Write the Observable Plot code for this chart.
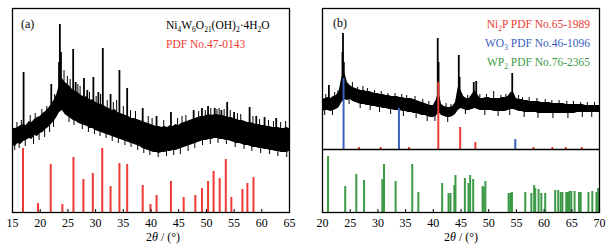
<!DOCTYPE html>
<html><head><meta charset="utf-8">
<script src="https://cdn.jsdelivr.net/npm/d3@7"></script>
<script src="https://cdn.jsdelivr.net/npm/@observablehq/plot@0.6"></script>
<style>
body{margin:0;background:#fff;}
#wrap{position:relative;width:611px;height:249px;font-family:'Liberation Serif',serif;color:#000;}
#wrap svg{position:absolute;top:0;}
#wrap svg text{font-family:'Liberation Serif',serif;}
.t{position:absolute;white-space:nowrap;line-height:1;}
.t sub{font-size:0.65em;vertical-align:-0.35em;line-height:0;}
</style></head><body><div id="wrap"></div>
<script>
// ---------- Panel (a) data ----------
const xTicksA = [15,20,25,30,35,40,45,50,55,60,65];
// sample pattern envelope: [2theta, lower, upper] (a.u.)
const patternA = [
[15,67,84],[15.5,66,84],[16,69,85],[16.5,68,87],[17,71,88],[17.5,72,87],[18,74,91],[18.5,73,90],
[19,77,93],[19.5,76,95],[20,79,96],[20.5,80,99],[21,83,101],[21.5,85,104],[22,88,108],[22.5,91,112],
[23,95,118],[23.5,100,128],[24,102,134],[24.5,98,130],[25,96,128],[25.5,94,125],[26,92,122],[26.5,91,121],
[27,89,119],[27.5,88,117],[28,87,115],[28.5,86,116],[29,84,112],[29.5,84,113],[30,82,110],[30.5,81,109],
[31,80,108],[31.5,79,107],[32,78,105],[32.5,77,104],[33,76,102],[33.5,75,103],[34,74,100],[34.5,73,99],
[35,72,98],[35.5,71,97],[36,70,96],[36.5,69,94],[37,68,94],[37.5,67,93],[38,66,92],[38.5,64,91],
[39,63,90],[39.5,62,89],[40,61,88],[40.5,60,87],[41,60,86],[41.5,59,86],[42,60,85],[42.5,60,86],
[43,61,85],[43.5,61,87],[44,62,86],[44.5,62,88],[45,63,87],[45.5,64,89],[46,65,90],[46.5,66,91],
[47,67,92],[47.5,68,93],[48,69,94],[48.5,70,95],[49,71,96],[49.5,72,96],[50,72,97],[50.5,73,98],
[51,73,97],[51.5,74,98],[52,74,98],[52.5,73,97],[53,73,97],[53.5,72,96],[54,72,95],[54.5,71,95],
[55,70,94],[55.5,69,93],[56,69,92],[56.5,68,92],[57,67,91],[57.5,67,90],[58,66,90],[58.5,65,89],
[59,65,88],[59.5,64,88],[60,64,87],[60.5,63,87],[61,63,86],[61.5,62,86],[62,62,85],[62.5,61,85],
[63,61,85],[63.5,60,84],[64,60,84],[64.5,60,85],[65,61,84]];
// sharp reflections of the sample: [2theta, top]
const peaksA = [
[17.0,140],[22.0,128],[23.4,150],[23.55,188],[23.75,160],[25.95,163],[26.4,130],[27.9,134],[28.5,122],
[29.6,135],[30.5,120],[31.3,164],[32.7,118],[34.3,142],[35.7,124],[38.5,104],[41.0,96],[43.6,100],
[47.7,102],[49.2,104],[50.3,106],[51.5,104],[52.7,102],[53.75,110],[55.0,100],[57.8,105],[59.0,96],
[60.5,95],[62.6,94]];
// noise spikes above and dips below the band: [2theta, extreme]
const noiseA = [
[15.8,90],[16.6,92],[18.2,97],[19.1,99],[20.3,103],[21.2,106],[22.6,118],[24.3,142],[24.9,136],[25.4,133],
[26.8,128],[27.2,126],[28.9,120],[30.1,116],[30.9,118],[32.1,112],[33.2,110],[33.8,112],[35.0,106],
[36.3,102],[37.2,101],[39.5,96],[40.2,94],[42.3,92],[44.8,94],[45.6,96],[46.3,97],[48.6,101],[49.8,102],
[50.8,104],[51.9,103],[52.3,104],[53.2,103],[54.3,102],[55.6,99],[56.2,98],[58.4,96],[59.6,93],
[61.2,92],[62.1,91],[63.4,90],[64.3,91]];
const dipsA = [
[15.4,62],[16.2,64],[17.3,66],[18.8,68],[19.8,72],[20.8,75],[21.7,80],[22.4,85],[25.2,90],[26.1,87],
[27.6,83],[28.7,80],[29.8,78],[30.8,76],[31.9,74],[33.0,71],[34.1,69],[35.3,67],[36.4,65],[37.6,62],
[38.7,59],[39.8,57],[41.3,55],[42.8,56],[44.1,57],[45.3,58],[46.7,61],[47.9,64],[49.3,67],[50.7,68],
[52.1,69],[53.6,68],[55.2,65],[56.8,63],[58.2,61],[59.8,59],[61.4,58],[62.9,56],[64.5,55]];
// PDF No.47-0143 reference lines: [2theta, intensity]
const pdfA = [
[16.9,64],[19.6,9],[21.9,48],[24.0,8],[26.0,55],[27.8,33],[29.5,39],[31.2,64],[32.7,26],[34.3,49],
[35.7,48],[38.5,27],[39.9,8],[41.0,17],[43.6,31],[45.9,15],[48.0,17],[49.2,24],[50.3,31],[51.3,41],
[52.4,34],[53.5,53],[54.5,15],[56.5,23],[57.4,29],[58.5,35]];

// ---------- Panel (b) data ----------
const xTicksB = [20,25,30,35,40,45,50,55,60,65,70];
const patternB = [
[20,101,113],[20.5,102,114],[21,102,115],[21.5,101,114],[22,102,116],[22.5,103,117],[23,105,121],
[23.5,110,135],[24,113,140],[24.5,112,130],[25,113,127],[25.5,111,125],[26,110,124],[26.5,109,123],
[27,108,122],[27.5,108,122],[28,107,121],[28.5,107,121],[29,106,120],[29.5,106,119],[30,105,119],
[30.5,105,118],[31,104,118],[31.5,104,117],[32,103,117],[32.5,103,116],[33,102,116],[33.5,102,116],
[34,102,115],[34.5,101,115],[35,101,114],[35.5,100,114],[36,100,114],[36.5,99,113],[37,99,112],
[37.5,98,111],[38,97,110],[38.5,97,109],[39,96,108],[39.5,95,107],[40,95,107],[40.5,96,112],
[41,100,120],[41.5,97,108],[42,96,106],[42.5,95,105],[43,95,105],[43.5,96,106],[44,98,110],
[44.5,102,125],[45,104,122],[45.5,103,116],[46,102,114],[46.5,102,114],[47,103,118],[47.5,104,122],
[48,103,118],[48.5,102,114],[49,102,114],[49.5,102,115],[50,102,115],[50.5,102,114],[51,101,114],
[51.5,101,114],[52,101,114],[52.5,101,115],[53,101,115],[53.5,102,116],[54,103,120],[54.5,103,120],
[55,102,114],[55.5,101,113],[56,101,113],[56.5,100,112],[57,100,112],[57.5,100,111],[58,100,111],
[58.5,100,111],[59,99,111],[59.5,99,110],[60,99,110],[60.5,99,110],[61,99,110],[61.5,99,109],
[62,99,109],[62.5,99,109],[63,99,109],[63.5,99,109],[64,99,108],[64.5,99,108],[65,99,108],
[65.5,99,108],[66,100,108],[66.5,100,108],[67,100,108],[67.5,100,107],[68,100,107],[68.5,100,107],
[69,100,107],[69.5,100,107],[70,100,107]];
const peaksB = [
[21.15,127],[23.6,160],[23.7,179],[23.85,150],[40.8,174],[40.95,150],[44.6,157],[44.75,135],
[47.3,130],[47.75,131],[54.25,139]];
const noiseB = [
[20.6,118],[22.2,120],[22.8,122],[25.4,130],[26.3,125],[27.3,126],[28.1,124],[29.4,122],[30.6,121],
[31.8,119],[33.1,119],[34.3,118],[35.2,117],[36.7,116],[38.1,113],[39.2,111],[42.3,109],[43.2,108],
[46.2,117],[48.4,118],[49.6,118],[50.9,121],[52.2,117],[53.1,118],[55.4,117],[56.1,115],[57.3,115],
[58.7,114],[60.2,113],[61.4,112],[62.7,112],[64.1,111],[65.3,111],[66.6,110],[67.8,110],[69.1,110]];
const dipsB = [
[20.4,97],[21.8,97],[24.8,108],[26.8,104],[28.6,102],[30.3,100],[32.3,98],[34.6,96],[36.9,94],[38.9,91],
[40.3,91],[42.6,90],[45.8,98],[49.3,97],[51.7,96],[53.8,97],[56.4,95],[58.9,94],[61.6,94],[64.3,94],
[66.9,95],[68.6,95]];
// reference lines, intensities above the divider
const pdfNi2P = [[40.9,67],[44.85,22],[47.6,7],[26.6,2],[30.5,2],[35.6,2],[58.1,2],[61.5,2],[63.9,2],[66.8,2]];
const pdfWO3 = [[23.8,71],[33.8,41],[54.8,10]];
const pdfWP2 = [
[21.0,56],[24.1,26],[26.1,38],[27.5,32],[30.8,33],[31.1,48],[33.2,31],[36.2,48],[37.3,20],[41.6,29],
[42.75,19],[43.1,19],[43.8,27],[44.0,37],[45.7,34],[46.35,29],[46.65,37],[47.2,33],[48.9,26],[49.1,25],
[49.4,31],[53.6,19],[53.9,19],[54.2,20],[56.6,20],[57.7,19],[58.2,27],[58.4,24],[59.0,23],[59.5,19],
[60.2,19],[62.0,22],[62.55,22],[63.0,20],[63.3,20],[64.0,20],[64.2,20],[64.4,20],[64.6,21],[64.9,21],
[65.5,21],[66.3,20],[66.6,20],[68.0,20],[68.7,21],[69.45,20],[69.75,24]];

// ---------- drawing ----------
const RED = "#ee3b33", BLUE = "#3a62bd", GREEN = "#3c9a47";
const DIVIDER = 63; // height of (b) divider on the y scale
const H = 249;
const mid = r => (r[1] + r[2]) / 2;
function baseAt(env, x) { // nearest envelope sample, for spike bases
  let best = env[0];
  for (const r of env) if (Math.abs(r[0] - x) < Math.abs(best[0] - x)) best = r;
  return mid(best);
}
const style = {fontFamily: "'Liberation Serif', serif", fontSize: "12px", color: "black", background: "white", overflow: "visible"};

function pattern(env, peaks, noise, dips) {
  return [
    Plot.areaY(env, {x: d => d[0], y1: d => d[1], y2: d => d[2], fill: "black"}),
    Plot.ruleX(noise, {x: d => d[0], y1: d => baseAt(env, d[0]), y2: d => d[1], stroke: "black", strokeWidth: 1}),
    Plot.ruleX(dips, {x: d => d[0], y1: d => baseAt(env, d[0]), y2: d => d[1], stroke: "black", strokeWidth: 1}),
    Plot.ruleX(peaks, {x: d => d[0], y1: d => baseAt(env, d[0]), y2: d => d[1], stroke: "black", strokeWidth: 1.8})
  ];
}

const plotA = Plot.plot({
  width: 305, height: H, marginLeft: 12, marginRight: 16, marginTop: 8, marginBottom: 37,
  style,
  x: {domain: [15, 65]}, y: {domain: [0, 204], axis: null},
  marks: [
    Plot.ruleX(pdfA, {x: d => d[0], y1: 0, y2: d => d[1], stroke: RED, strokeWidth: 2}),
    ...pattern(patternA, peaksA, noiseA, dipsA),
    Plot.ruleX(xTicksA.slice(1, -1), {y1: 0, y2: 3, stroke: "black", strokeWidth: 1}),
    Plot.axisX({ticks: xTicksA, tickSize: 0, tickPadding: 6, label: null, fontSize: 12}),
    Plot.frame({stroke: "black", strokeWidth: 1.3})
  ]
});

const plotB = Plot.plot({
  width: 306, height: H, marginLeft: 17, marginRight: 12, marginTop: 8, marginBottom: 37,
  style,
  x: {domain: [20, 70]}, y: {domain: [0, 204], axis: null},
  marks: [
    ...pattern(patternB, peaksB, noiseB, dipsB),
    Plot.ruleX(pdfNi2P, {x: d => d[0], y1: DIVIDER, y2: d => DIVIDER + d[1], stroke: RED, strokeWidth: 2}),
    Plot.ruleX(pdfWO3, {x: d => d[0], y1: DIVIDER, y2: d => DIVIDER + d[1], stroke: BLUE, strokeWidth: 2}),
    Plot.ruleY([DIVIDER], {stroke: "black", strokeWidth: 1.3}),
    Plot.ruleX(pdfWP2, {x: d => d[0], y1: 0, y2: d => d[1], stroke: GREEN, strokeWidth: 2}),
    Plot.ruleX(xTicksB.slice(1, -1), {y1: 0, y2: 3, stroke: "black", strokeWidth: 1}),
    Plot.axisX({ticks: xTicksB, tickSize: 0, tickPadding: 6, label: null, fontSize: 12}),
    Plot.frame({stroke: "black", strokeWidth: 1.3})
  ]
});

const wrap = document.getElementById("wrap");
plotA.style.left = "0px";
plotB.style.left = "305px";
wrap.appendChild(plotA);
wrap.appendChild(plotB);

function label(html, css) {
  const d = document.createElement("div");
  d.className = "t";
  d.innerHTML = html;
  Object.assign(d.style, css);
  wrap.appendChild(d);
  return d;
}
label("(a)", {left: "21px", top: "18px", fontSize: "12px"});
label("Ni<sub>4</sub>W<sub>6</sub>O<sub>21</sub>(OH)<sub>2</sub>·4H<sub>2</sub>O", {left: "166px", top: "20px", fontSize: "11.5px"});
label("PDF No.47-0143", {left: "166px", top: "39px", fontSize: "11.5px", color: RED});
label("(b)", {left: "333px", top: "17px", fontSize: "12px"});
label("Ni<sub>2</sub>P PDF No.65-1989", {right: "21px", top: "19px", fontSize: "11.5px", color: RED});
label("WO<sub>3</sub> PDF No.46-1096", {right: "21px", top: "38px", fontSize: "11.5px", color: BLUE});
label("WP<sub>2</sub> PDF No.76-2365", {right: "21px", top: "57px", fontSize: "11.5px", color: GREEN});
const axisTitle = "2<i>θ</i> / (°)";
const ta = label(axisTitle, {top: "231px", fontSize: "12px"});
ta.style.left = (163 - ta.offsetWidth / 2) + "px";
const tb = label(axisTitle, {top: "231px", fontSize: "12px"});
tb.style.left = (461 - tb.offsetWidth / 2) + "px";
</script>
</body></html>
